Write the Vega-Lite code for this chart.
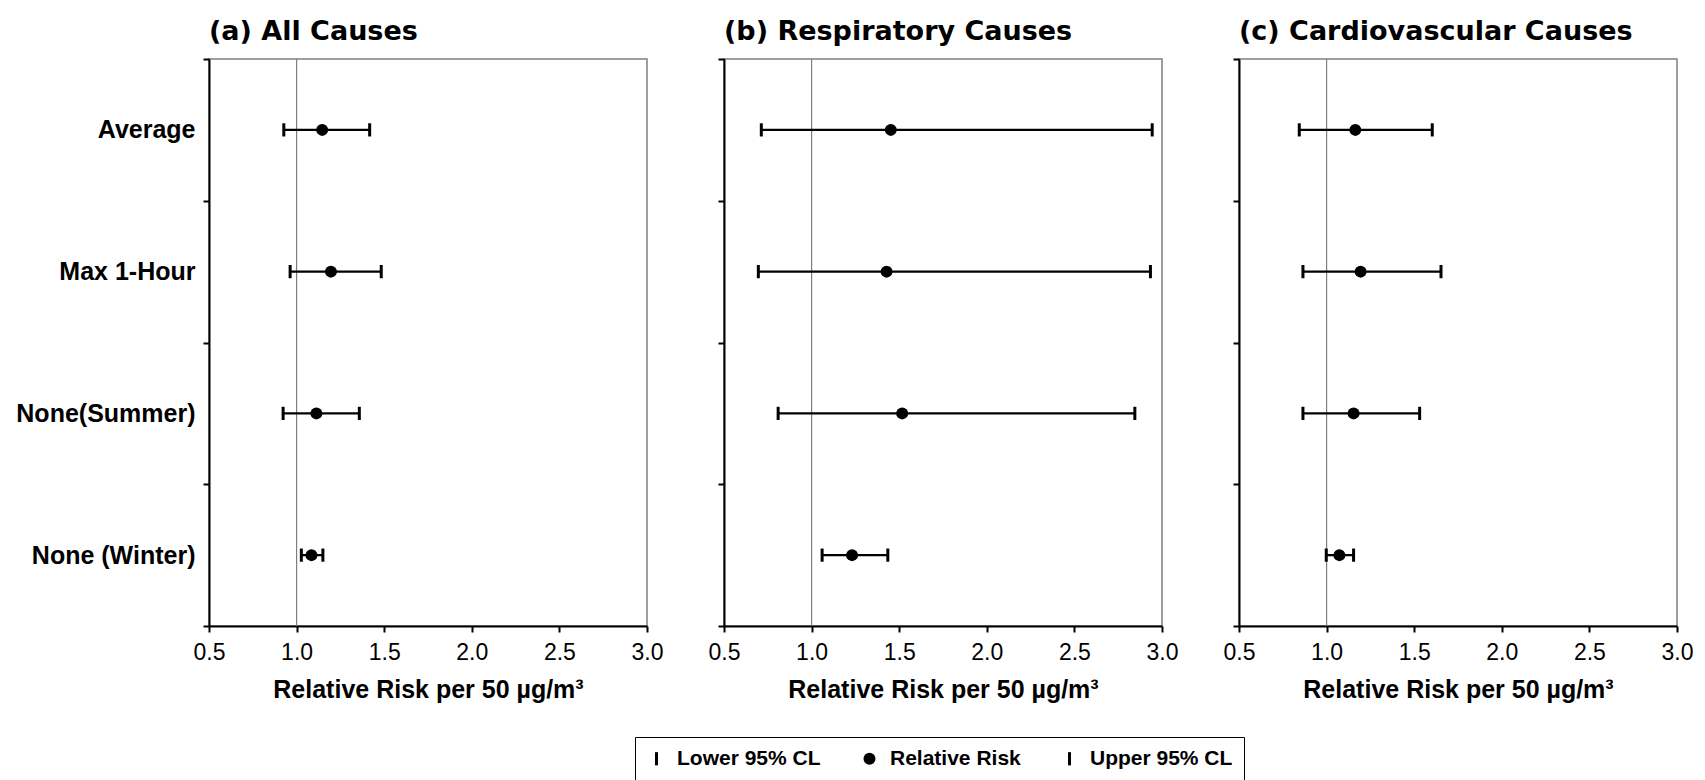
{
  "$schema": "https://vega.github.io/schema/vega-lite/v6.json",
  "padding": {"left": 15, "top": 17, "right": 5, "bottom": 0},
  "datasets": {
    "rr": [
      {"cause": "All Causes", "metric": "Average", "lower": 0.927, "rr": 1.146, "upper": 1.417},
      {"cause": "All Causes", "metric": "Max 1-Hour", "lower": 0.963, "rr": 1.196, "upper": 1.483},
      {"cause": "All Causes", "metric": "None(Summer)", "lower": 0.923, "rr": 1.113, "upper": 1.358},
      {"cause": "All Causes", "metric": "None (Winter)", "lower": 1.027, "rr": 1.085, "upper": 1.15},
      {"cause": "Respiratory Causes", "metric": "Average", "lower": 0.713, "rr": 1.452, "upper": 2.944},
      {"cause": "Respiratory Causes", "metric": "Max 1-Hour", "lower": 0.696, "rr": 1.428, "upper": 2.934},
      {"cause": "Respiratory Causes", "metric": "None(Summer)", "lower": 0.809, "rr": 1.517, "upper": 2.845},
      {"cause": "Respiratory Causes", "metric": "None (Winter)", "lower": 1.06, "rr": 1.231, "upper": 1.435},
      {"cause": "Cardiovascular Causes", "metric": "Average", "lower": 0.844, "rr": 1.164, "upper": 1.603},
      {"cause": "Cardiovascular Causes", "metric": "Max 1-Hour", "lower": 0.865, "rr": 1.194, "upper": 1.653},
      {"cause": "Cardiovascular Causes", "metric": "None(Summer)", "lower": 0.865, "rr": 1.154, "upper": 1.531},
      {"cause": "Cardiovascular Causes", "metric": "None (Winter)", "lower": 0.998, "rr": 1.073, "upper": 1.154}
    ],
    "ref": [{"value": 1}]
  },
  "spacing": 43,
  "resolve": {"scale": {"shape": "shared"}, "legend": {"shape": "shared"}},
  "hconcat": [
    {
      "width": 438,
      "height": 567,
      "title": {"text": "(a) All Causes", "offset": 1},
      "layer": [
        {
          "data": {"name": "ref"},
          "mark": {"type": "rule", "color": "#7f7f7f", "strokeWidth": 1.2},
          "encoding": {
            "x": {"field": "value", "type": "quantitative", "title": "Relative Risk per 50 µg/m³",
                  "scale": {"domain": [0.5, 3], "nice": false, "zero": false},
                  "axis": {"values": [0.5, 1, 1.5, 2, 2.5, 3], "format": ".1f"}}
          }
        },
        {
          "data": {"name": "rr"},
          "transform": [{"filter": "datum.cause === 'All Causes'"}],
          "mark": {"type": "rule", "color": "black", "strokeWidth": 2.3},
          "encoding": {
            "y": {"field": "metric", "type": "nominal", "sort": ["Average", "Max 1-Hour", "None(Summer)", "None (Winter)"],
                  "title": null, "axis": {"labels": true}},
            "x": {"field": "lower", "type": "quantitative", "title": "Relative Risk per 50 µg/m³",
                  "scale": {"domain": [0.5, 3], "nice": false, "zero": false},
                  "axis": {"values": [0.5, 1, 1.5, 2, 2.5, 3], "format": ".1f"}},
            "x2": {"field": "upper"}
          }
        },
        {
          "data": {"name": "rr"},
          "transform": [
            {"filter": "datum.cause === 'All Causes'"},
            {"fold": ["lower", "rr", "upper"], "as": ["stat", "value"]}
          ],
          "mark": {"type": "point", "filled": true, "color": "black", "opacity": 1, "size": 144},
          "encoding": {
            "y": {"field": "metric", "type": "nominal", "sort": ["Average", "Max 1-Hour", "None(Summer)", "None (Winter)"],
                  "title": null, "axis": {"labels": true}},
            "x": {"field": "value", "type": "quantitative", "title": "Relative Risk per 50 µg/m³",
                  "scale": {"domain": [0.5, 3], "nice": false, "zero": false},
                  "axis": {"values": [0.5, 1, 1.5, 2, 2.5, 3], "format": ".1f"}},
            "shape": {
              "field": "stat", "type": "nominal",
              "scale": {"domain": ["lower", "rr", "upper"],
                        "range": ["M-0.25,-1.1H0.25V1.1H-0.25Z", "circle", "M-0.25,-1.1H0.25V1.1H-0.25Z"]},
              "legend": {
                "title": null, "orient": "none", "legendX": 426, "legendY": 678, "direction": "horizontal", "columns": 3,
                "strokeColor": "black", "padding": 11, "columnPadding": 38, "labelOffset": 10,
                "labelFontSize": 21, "labelFontWeight": "bold", "labelColor": "black", "symbolSize": 144,
                "symbolFillColor": "black", "symbolStrokeWidth": 0,
                "labelExpr": "datum.label === 'lower' ? 'Lower 95% CL' : datum.label === 'rr' ? 'Relative Risk' : 'Upper 95% CL'"
              }
            }
          }
        }
      ]
    },
    {
      "width": 438,
      "height": 567,
      "title": {"text": "(b) Respiratory Causes"},
      "layer": [
        {
          "data": {"name": "ref"},
          "mark": {"type": "rule", "color": "#7f7f7f", "strokeWidth": 1.2},
          "encoding": {
            "x": {"field": "value", "type": "quantitative", "title": "Relative Risk per 50 µg/m³",
                  "scale": {"domain": [0.5, 3], "nice": false, "zero": false},
                  "axis": {"values": [0.5, 1, 1.5, 2, 2.5, 3], "format": ".1f"}}
          }
        },
        {
          "data": {"name": "rr"},
          "transform": [{"filter": "datum.cause === 'Respiratory Causes'"}],
          "mark": {"type": "rule", "color": "black", "strokeWidth": 2.3},
          "encoding": {
            "y": {"field": "metric", "type": "nominal", "sort": ["Average", "Max 1-Hour", "None(Summer)", "None (Winter)"],
                  "title": null, "axis": {"labels": false}},
            "x": {"field": "lower", "type": "quantitative", "title": "Relative Risk per 50 µg/m³",
                  "scale": {"domain": [0.5, 3], "nice": false, "zero": false},
                  "axis": {"values": [0.5, 1, 1.5, 2, 2.5, 3], "format": ".1f"}},
            "x2": {"field": "upper"}
          }
        },
        {
          "data": {"name": "rr"},
          "transform": [
            {"filter": "datum.cause === 'Respiratory Causes'"},
            {"fold": ["lower", "rr", "upper"], "as": ["stat", "value"]}
          ],
          "mark": {"type": "point", "filled": true, "color": "black", "opacity": 1, "size": 144},
          "encoding": {
            "y": {"field": "metric", "type": "nominal", "sort": ["Average", "Max 1-Hour", "None(Summer)", "None (Winter)"],
                  "title": null, "axis": {"labels": false}},
            "x": {"field": "value", "type": "quantitative", "title": "Relative Risk per 50 µg/m³",
                  "scale": {"domain": [0.5, 3], "nice": false, "zero": false},
                  "axis": {"values": [0.5, 1, 1.5, 2, 2.5, 3], "format": ".1f"}},
            "shape": {
              "field": "stat", "type": "nominal",
              "scale": {"domain": ["lower", "rr", "upper"],
                        "range": ["M-0.25,-1.1H0.25V1.1H-0.25Z", "circle", "M-0.25,-1.1H0.25V1.1H-0.25Z"]},
              "legend": {
                "title": null, "orient": "none", "legendX": 426, "legendY": 678, "direction": "horizontal", "columns": 3,
                "strokeColor": "black", "padding": 11, "columnPadding": 38, "labelOffset": 10,
                "labelFontSize": 21, "labelFontWeight": "bold", "labelColor": "black", "symbolSize": 144,
                "symbolFillColor": "black", "symbolStrokeWidth": 0,
                "labelExpr": "datum.label === 'lower' ? 'Lower 95% CL' : datum.label === 'rr' ? 'Relative Risk' : 'Upper 95% CL'"
              }
            }
          }
        }
      ]
    },
    {
      "width": 438,
      "height": 567,
      "title": {"text": "(c) Cardiovascular Causes"},
      "layer": [
        {
          "data": {"name": "ref"},
          "mark": {"type": "rule", "color": "#7f7f7f", "strokeWidth": 1.2},
          "encoding": {
            "x": {"field": "value", "type": "quantitative", "title": "Relative Risk per 50 µg/m³",
                  "scale": {"domain": [0.5, 3], "nice": false, "zero": false},
                  "axis": {"values": [0.5, 1, 1.5, 2, 2.5, 3], "format": ".1f"}}
          }
        },
        {
          "data": {"name": "rr"},
          "transform": [{"filter": "datum.cause === 'Cardiovascular Causes'"}],
          "mark": {"type": "rule", "color": "black", "strokeWidth": 2.3},
          "encoding": {
            "y": {"field": "metric", "type": "nominal", "sort": ["Average", "Max 1-Hour", "None(Summer)", "None (Winter)"],
                  "title": null, "axis": {"labels": false}},
            "x": {"field": "lower", "type": "quantitative", "title": "Relative Risk per 50 µg/m³",
                  "scale": {"domain": [0.5, 3], "nice": false, "zero": false},
                  "axis": {"values": [0.5, 1, 1.5, 2, 2.5, 3], "format": ".1f"}},
            "x2": {"field": "upper"}
          }
        },
        {
          "data": {"name": "rr"},
          "transform": [
            {"filter": "datum.cause === 'Cardiovascular Causes'"},
            {"fold": ["lower", "rr", "upper"], "as": ["stat", "value"]}
          ],
          "mark": {"type": "point", "filled": true, "color": "black", "opacity": 1, "size": 144},
          "encoding": {
            "y": {"field": "metric", "type": "nominal", "sort": ["Average", "Max 1-Hour", "None(Summer)", "None (Winter)"],
                  "title": null, "axis": {"labels": false}},
            "x": {"field": "value", "type": "quantitative", "title": "Relative Risk per 50 µg/m³",
                  "scale": {"domain": [0.5, 3], "nice": false, "zero": false},
                  "axis": {"values": [0.5, 1, 1.5, 2, 2.5, 3], "format": ".1f"}},
            "shape": {
              "field": "stat", "type": "nominal",
              "scale": {"domain": ["lower", "rr", "upper"],
                        "range": ["M-0.25,-1.1H0.25V1.1H-0.25Z", "circle", "M-0.25,-1.1H0.25V1.1H-0.25Z"]},
              "legend": {
                "title": null, "orient": "none", "legendX": 426, "legendY": 678, "direction": "horizontal", "columns": 3,
                "strokeColor": "black", "padding": 11, "columnPadding": 38, "labelOffset": 10,
                "labelFontSize": 21, "labelFontWeight": "bold", "labelColor": "black", "symbolSize": 144,
                "symbolFillColor": "black", "symbolStrokeWidth": 0,
                "labelExpr": "datum.label === 'lower' ? 'Lower 95% CL' : datum.label === 'rr' ? 'Relative Risk' : 'Upper 95% CL'"
              }
            }
          }
        }
      ]
    }
  ],
  "config": {
    "font": "Liberation Sans",
    "background": "white",
    "view": {"stroke": "#7f7f7f", "strokeWidth": 1.5},
    "title": {"anchor": "start", "frame": "group", "font": "DejaVu Sans", "fontSize": 27, "fontWeight": "bold",
              "color": "black", "offset": 12},
    "axis": {"grid": false, "domainColor": "black", "domainWidth": 2, "tickColor": "black", "tickWidth": 2,
             "labelColor": "black", "titleColor": "black"},
    "axisX": {
      "titleFontSize": 25, "titleFontWeight": "bold", "titlePadding": 13,
      "labelFontSize": 23, "labelFontWeight": "normal",
      "labelPadding": 9, "tickSize": 6, "labelFlush": false, "labelOverlap": false
    },
    "axisY": {
      "labelFontSize": 25, "labelFontWeight": "bold", "labelPadding": 8, "tickSize": 6,
      "tickBand": "extent"
    },
    "legend": {"labelFont": "Liberation Sans"}
  }
}
